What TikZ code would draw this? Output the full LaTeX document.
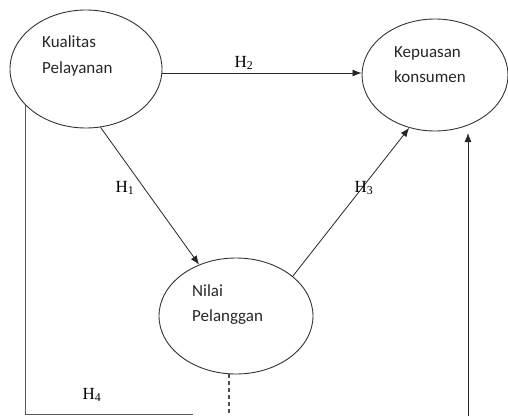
\documentclass[tikz,border=0pt]{standalone}
\usepackage{fontspec}
\setmainfont{Liberation Serif}
\newfontfamily\lbl{Carlito}
\usetikzlibrary{shapes.geometric,arrows.meta}
\begin{document}
\begin{tikzpicture}[x=1pt,y=1pt,
  var/.style={draw=black!80,line width=0.9pt,ellipse,inner sep=0pt},
  vtext/.style={anchor=base west,inner sep=0pt,font=\lbl\fontsize{17}{17}\selectfont,text=black!85},
  hyp/.style={inner sep=0pt,font=\fontsize{17}{17}\selectfont},
  conn/.style={draw=black!85,line width=0.8pt,-{Latex[length=9pt,width=7pt]}},
  frame/.style={draw=black!65,line width=1.3pt}]
\useasboundingbox (0,0) rectangle (508,416);
% variables
\node[var,minimum width=152pt,minimum height=118pt] (kp) at (86,347) {};
\node[var,minimum width=146pt,minimum height=112pt] (kk) at (435,341) {};
\node[var,minimum width=154pt,minimum height=116pt] (nl) at (236,100) {};
\node[vtext] (kp1) at (42,368) {Kualitas};
\node[vtext] (kp2) at (42,343) {Pelayanan};
\node[vtext] (kk1) at (394,359) {Kepuasan};
\node[vtext] (kk2) at (394,334) {konsumen};
\node[vtext] (nl1) at (192,120) {Nilai};
\node[vtext] (nl2) at (192,95) {Pelanggan};
% connectors
\draw[conn] (kp.-3) -- (kk.west |- kp.-3);
\draw[conn] (kp.-76) -- (nl);
\draw[conn] (nl.35) -- (kk.-116);
\coordinate (rb) at (468,0);
\coordinate (rt) at (468,283);
\draw[conn] (rb) -- (rt);
\coordinate (lb) at (193,1.5);
\draw[frame] (kp.211) |- (lb);
\coordinate (d) at (229,0);
\draw[black!70,line width=1.2pt,dash pattern=on 4pt off 3pt] (d |- nl.south) -- (d);
% hypothesis labels
\node[hyp] (h2) at (244,353) {H\textsubscript{2}};
\node[hyp] (h1) at (125,228) {H\textsubscript{1}};
\node[hyp] (h3) at (364,228) {H\textsubscript{3}};
\node[hyp] (h4) at (92,21) {H\textsubscript{4}};
\end{tikzpicture}
\end{document}
